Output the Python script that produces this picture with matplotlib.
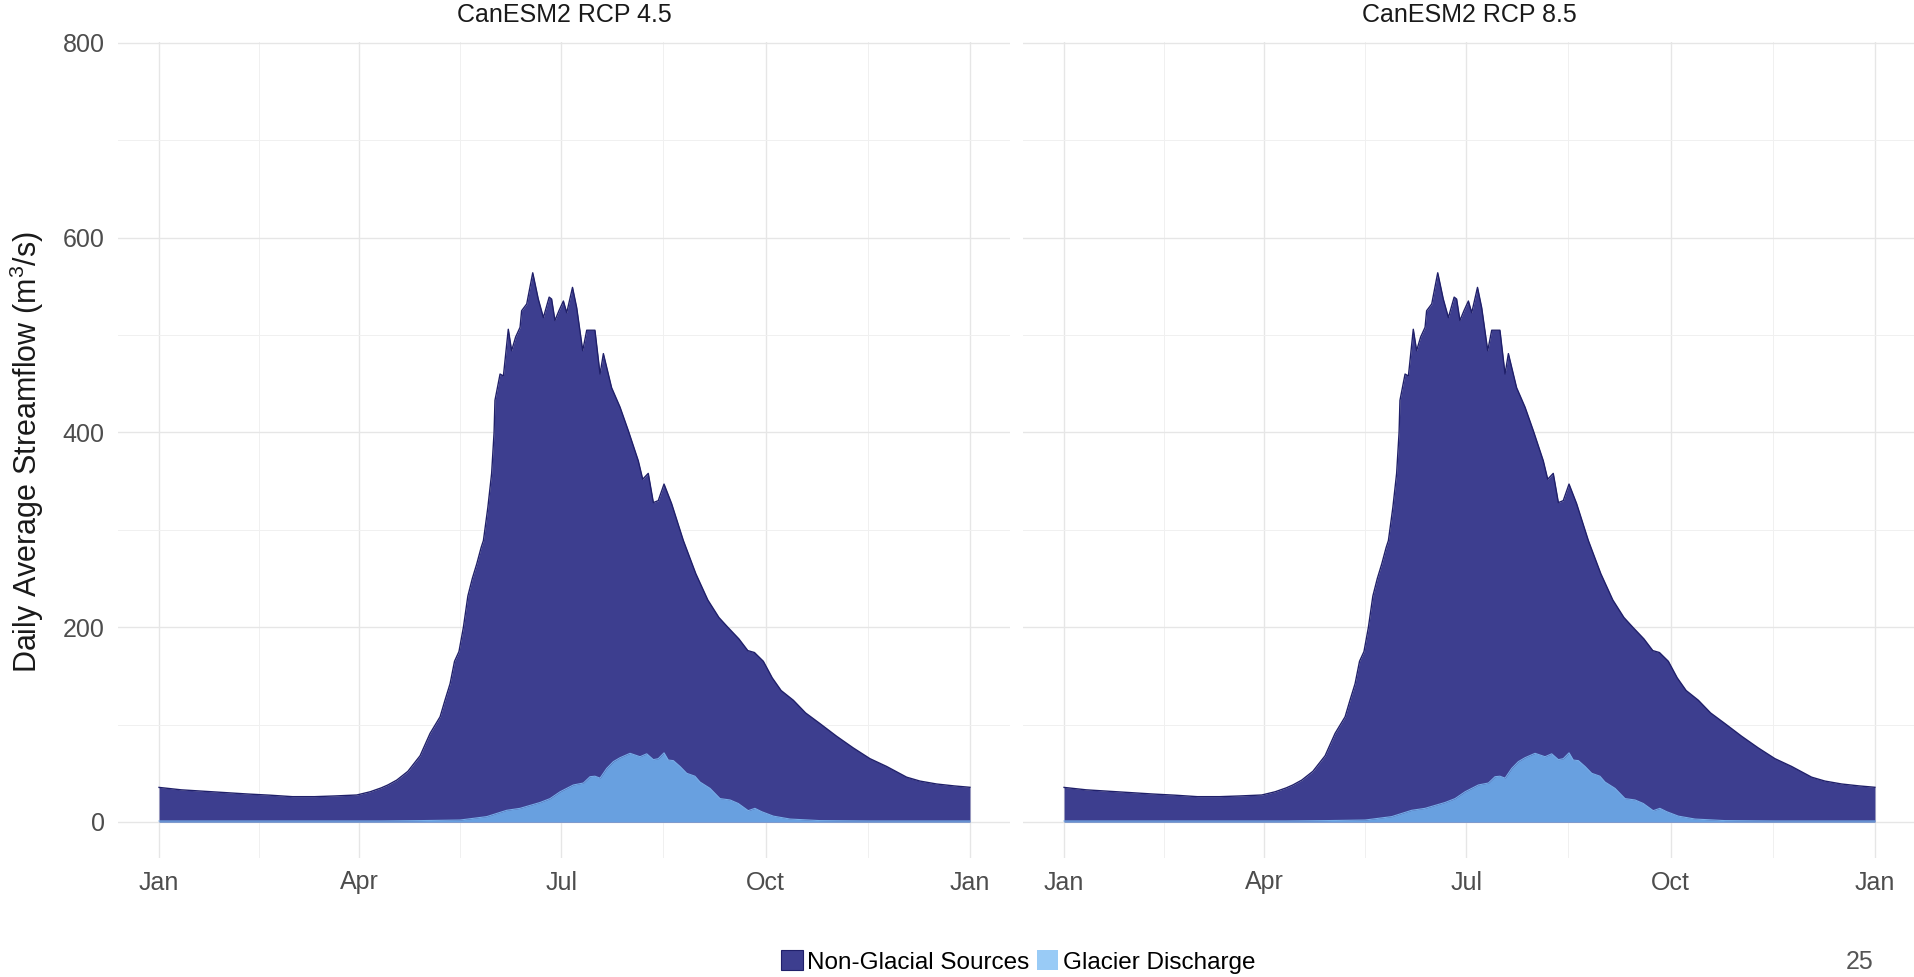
import matplotlib
matplotlib.use('Agg')
import matplotlib.pyplot as plt
import matplotlib.dates as mdates
from matplotlib.patches import Rectangle
from matplotlib.ticker import FixedLocator
import numpy as np
import pandas as pd

plt.rcParams['font.family'] = ['Liberation Sans', 'DejaVu Sans']
plt.rcParams['mathtext.fontset'] = 'custom'
plt.rcParams['mathtext.rm'] = 'Liberation Sans'

# panel titles
scenarios = ['CanESM2 RCP 4.5', 'CanESM2 RCP 8.5']

# total daily average streamflow (m3/s), day of year
total_days = [0, 10, 24, 40, 50, 60, 70, 79, 89, 95, 100, 103, 107, 112, 117.5,
              122, 126.5, 128.7, 131, 133, 135, 137, 139, 141, 143, 145, 146,
              148, 149.7, 150.8, 151.2, 153.5, 155, 157.2, 158.7, 160.5, 162.5,
              163.2, 165.5, 168.2, 170.7, 173, 175.6, 176.7, 178.2, 180, 182,
              183.5, 186.1, 188, 190.7, 192.5, 196.2, 198.5, 200, 203.7, 207.5,
              211.2, 215.7, 217.7, 220.2, 222.5, 224.7, 227.3, 230.7, 236,
              241.6, 247, 252, 256, 261, 265, 268, 272, 276, 280, 285.5, 291,
              297.5, 305, 312.5, 320, 327.5, 336.5, 342.5, 350, 358, 365]
total_flow = [35.5, 33, 31, 28.7, 27.5, 26, 26, 26.7, 27.7, 31, 35, 38, 43, 52, 68,
              91, 108, 125, 142, 165, 175, 200, 232, 250, 265, 282, 289,
              323, 358, 400, 433, 460, 458, 506, 484, 498, 508,
              525, 532, 564, 537, 518, 539, 537, 515, 525, 535,
              523, 549, 528, 484, 505, 505, 460, 481, 446, 426,
              402, 371, 352, 358, 328, 330, 347, 327, 289,
              255, 228, 210, 200, 188, 176, 174, 165, 148, 135, 125, 112,
              101, 88, 76, 65, 57, 46, 42, 39, 37, 35.6]

# glacier discharge part (m3/s)
glacier_days = [0, 100, 117.5, 135.5, 147.5, 156.5, 162.5, 171.5, 176, 180.5,
                186.5, 191, 194, 196.2, 198.5, 201.5, 204.5, 207.5, 212, 216.5,
                219.5, 222.5, 224.7, 227.3, 229.2, 231.5, 234.5, 237.5, 241.2,
                243.5, 248, 252.5, 257, 260.7, 265.2, 268.2, 271.2, 276.5, 284,
                297.5, 320, 365]
glacier_flow = [1, 1, 1.4, 2, 5.5, 12, 14, 20, 24, 31,
                38, 40, 46.5, 47, 45, 55, 62, 66, 70.5, 67,
                70, 64, 65, 71, 63.6, 63, 57, 50, 47,
                41, 34.5, 24, 22.6, 19, 11.6, 14, 10.6, 6, 3,
                1.4, 1, 1]

y_ticks = [0, 200, 400, 600, 800]
y_minor = [100, 300, 500, 700]

navy = '#3d3e8f'
navy_edge = '#20206a'
glacier_col = '#68a0e0'
glacier_key = '#99cbf6'

start = pd.Timestamp('2001-01-01')
t_total = start + pd.to_timedelta(total_days, unit='D')
t_glacier = start + pd.to_timedelta(glacier_days, unit='D')
end = start + pd.Timedelta(days=365)
pad = pd.Timedelta(days=18.25)

W, H = 1915, 977
fig = plt.figure(figsize=(W / 100, H / 100), dpi=100)

lefts = [118.5, 1023.5]
for i, name in enumerate(scenarios):
    ax = fig.add_axes([lefts[i] / W, 1 - 858 / H, 892 / W, (858 - 42) / H])
    ax.fill_between(t_total, total_flow, 0, color=navy, lw=0, zorder=2)
    ax.plot(t_total, total_flow, color=navy_edge, lw=1.0, zorder=3)
    ax.fill_between(t_glacier, glacier_flow, 0, color=glacier_col, lw=0, zorder=4)
    ax.plot(t_glacier, glacier_flow, color='#78aee8', lw=0.8, zorder=4)

    ax.set_xlim(start - pad, end + pad)
    ax.set_ylim(-37, 801)

    ax.xaxis.set_major_locator(mdates.MonthLocator(bymonth=[1, 4, 7, 10]))
    ax.xaxis.set_major_formatter(mdates.DateFormatter('%b'))
    majors = [mdates.date2num(start + pd.Timedelta(days=d)) for d in [0, 90, 181, 273, 365]]
    ax.xaxis.set_minor_locator(FixedLocator([(a + b) / 2 for a, b in zip(majors[:-1], majors[1:])]))
    ax.set_yticks(y_ticks)
    ax.yaxis.set_minor_locator(FixedLocator(y_minor))

    ax.grid(which='major', color='#e6e6e6', lw=1.0, zorder=0)
    ax.grid(which='minor', color='#f0f0f0', lw=0.7, zorder=0)
    ax.set_axisbelow(True)
    for s in ax.spines.values():
        s.set_visible(False)
    ax.tick_params(which='both', length=0)
    ax.tick_params(axis='x', labelsize=18, labelcolor='#4d4d4d', pad=9)
    ax.tick_params(axis='y', labelsize=18, labelcolor='#4d4d4d', pad=10)
    if i == 1:
        ax.tick_params(axis='y', labelleft=False)

    fig.text((lefts[i] + 446) / W, 1 - 15 / H, name, ha='center', va='center',
             fontsize=18, color='#1a1a1a')

fig.text(27 / W, 1 - 452 / H, 'Daily Average Streamflow (m$^3$/s)', rotation=90,
         ha='center', va='center', fontsize=22, color='#1a1a1a')

handles = [Rectangle((0, 0), 1, 1, facecolor=navy, edgecolor=navy_edge, lw=0.8),
           Rectangle((0, 0), 1, 1, facecolor=glacier_key, edgecolor='none')]
fig.legend(handles, ['Non-Glacial Sources', 'Glacier Discharge'], loc='center',
           bbox_to_anchor=(1018.5 / W, 1 - 962 / H), ncol=2, frameon=False,
           fontsize=17.5, handlelength=0.87, handleheight=0.87, handletextpad=0.2,
           columnspacing=0.3, borderpad=0)

fig.text(1860 / W, 1 - 962 / H, '25', ha='center', va='center', fontsize=18, color='#555555')

fig.savefig('out.png', dpi=100)
